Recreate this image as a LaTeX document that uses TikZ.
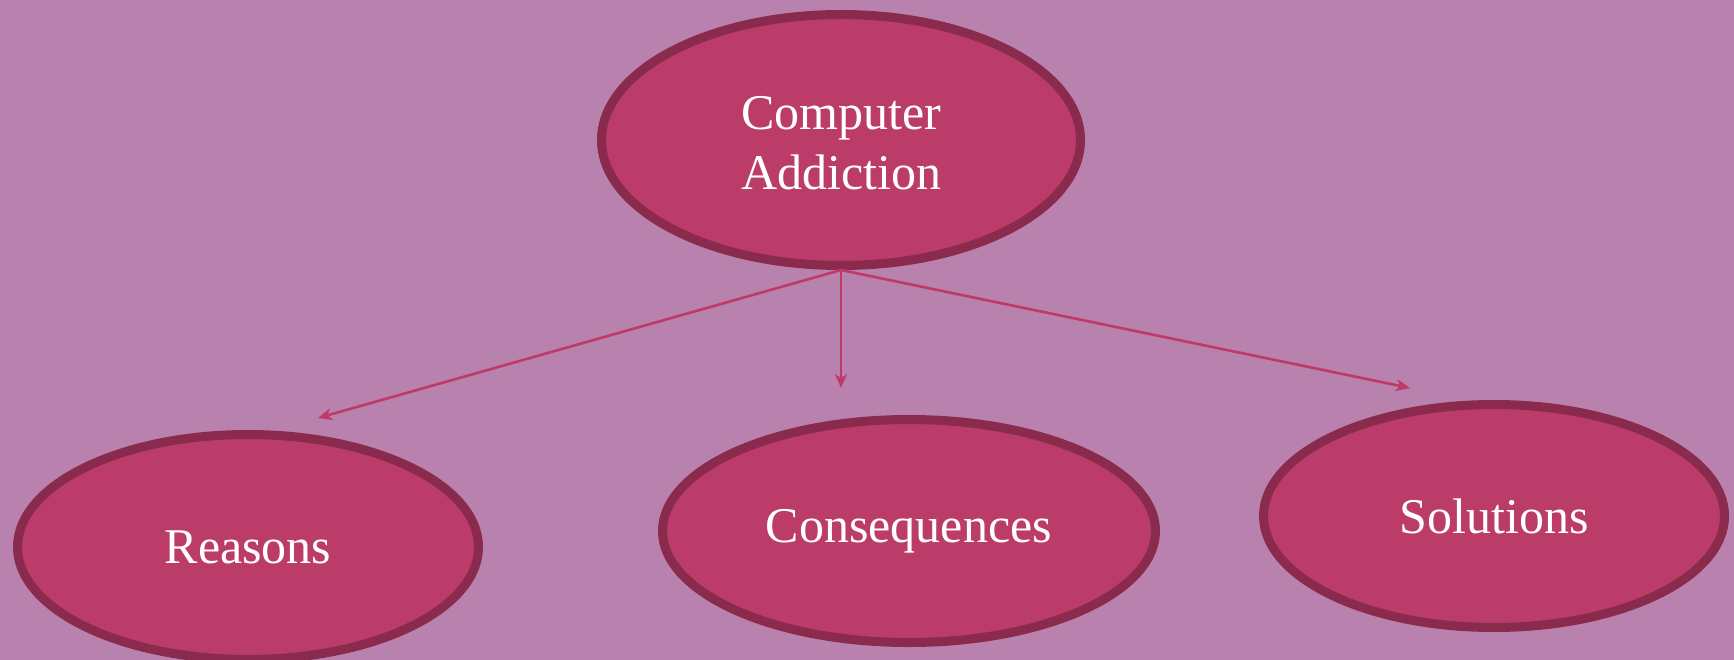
\documentclass[tikz,border=0pt]{standalone}
\usepackage{fontspec}
\setmainfont{Liberation Serif}
\usetikzlibrary{shapes.geometric,arrows.meta}
\definecolor{bgcol}{HTML}{B982AE}
\definecolor{fillcol}{HTML}{BB3C68}
\definecolor{bordcol}{HTML}{8A2A4D}
\definecolor{arrcol}{HTML}{C03A68}
\tikzset{
  bubble/.style={ellipse, draw=bordcol, fill=fillcol, line width=9pt, inner sep=0pt,
    text=white, align=center, font=\fontsize{50}{60}\selectfont},
  link/.style={draw=arrcol, line width=2.6pt, -{Stealth[length=14pt,width=12pt,inset=4pt]}}
}
\begin{document}
\begin{tikzpicture}[x=1pt,y=-1pt]
\fill[bgcol] (0,0) rectangle (1734,660);
\useasboundingbox (0,0) rectangle (1734,660);
\node[bubble, minimum width=479pt, minimum height=251pt] (top) at (841,140) {};
\node[text=white, align=center, font=\fontsize{50}{60}\selectfont] (toplabel) at (841,143) {Computer\\Addiction};
\node[bubble, minimum width=461pt, minimum height=225pt] (reasons) at (248,547) {Reasons};
\node[bubble, minimum width=493pt, minimum height=223pt] (cons) at (909,531) {Consequences};
\node[bubble, minimum width=461pt, minimum height=223pt] (sol) at (1494,516) {Solutions};
\coordinate (tl) at (318,418);
\coordinate (tm) at (841,388);
\coordinate (tr) at (1410,388);
\draw[link] (top.south) -- (tl);
\draw[link] (top.south) -- (tm);
\draw[link] (top.south) -- (tr);
\end{tikzpicture}
\end{document}
